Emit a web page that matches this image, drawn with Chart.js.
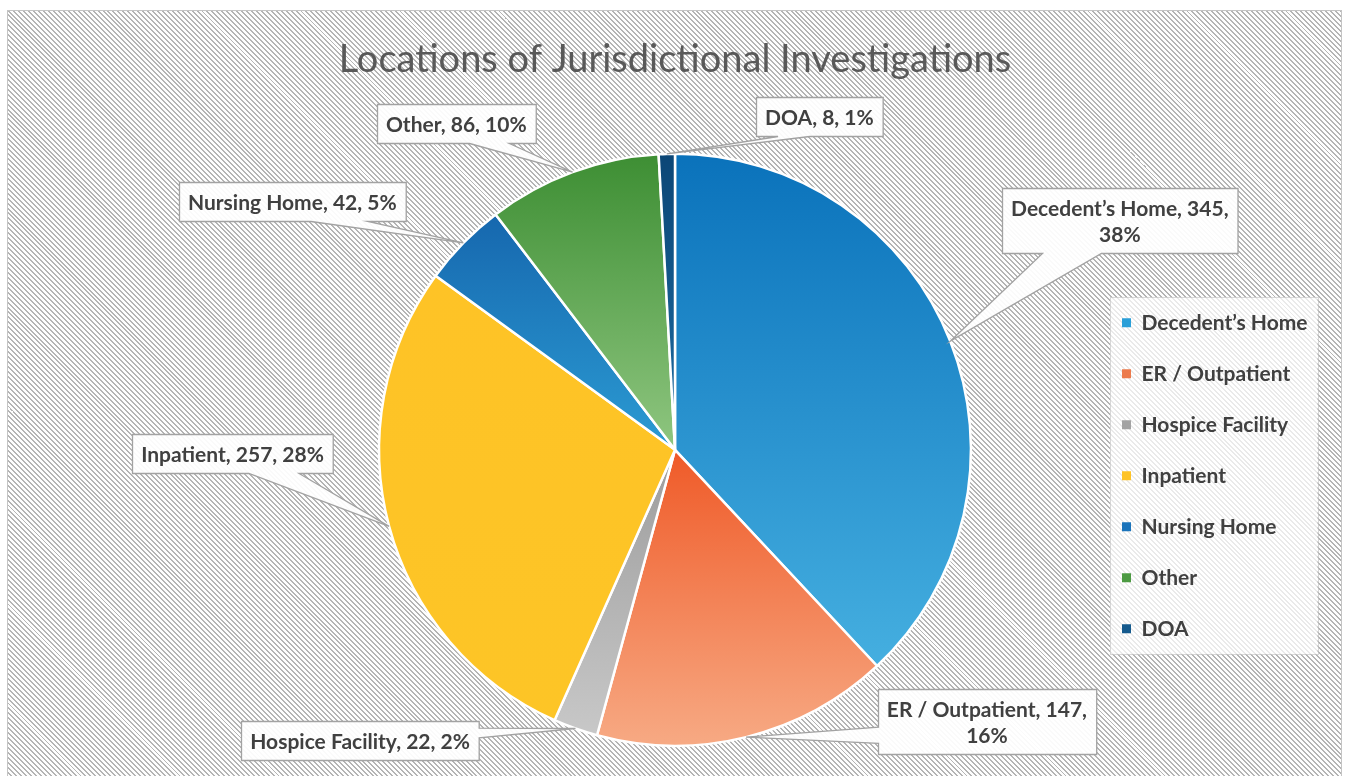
<!DOCTYPE html>
<html lang="en">
<head>
    <meta charset="UTF-8">
    <title>Locations of Jurisdictional Investigations</title>
    <script src="https://cdn.jsdelivr.net/npm/chart.js"></script>
    <style>
        body {
            margin: 0;
            background: #fff;
        }
        .frame {
            position: absolute;
            left: 7px;
            top: 10px;
            width: 1333px;
            height: 790px;
            border: 1px solid #c4c4c4;
            background: repeating-linear-gradient(45deg, #fdfdfd 0px, #fdfdfd 2.1px, #b4b4b4 2.1px, #b4b4b4 3.5px);
        }
    </style>
</head>
<body>

<div class="frame">
    <canvas id="pie"></canvas>
</div>

<script>
const categories = ['Decedent\u2019s Home', 'ER / Outpatient', 'Hospice Facility', 'Inpatient', 'Nursing Home', 'Other', 'DOA'];
const counts = [345, 147, 22, 257, 42, 86, 8];

const sliceTop = ['#0a72bb', '#ef5a28', '#9c9c9c', '#fec326', '#1667ae', '#3d8e33', '#0b4676'];
const sliceBottom = ['#45afe0', '#f7aa84', '#c8c8c8', '#fdc526', '#2b9bd3', '#8fc680', '#1e6ca2'];
const legendColors = ['#2a9fd8', '#ec7b4d', '#a3a3a3', '#fec326', '#1b74bb', '#4c9a42', '#155a8d'];

// where each callout box sits, in pie radii from the centre
const calloutOffsets = [[1.503, -0.774], [1.054, 0.917], [-1.064, 0.983], [-1.495, 0.013], [-1.293, -0.838], [-0.739, -1.104], [0.488, -1.125]];

const TEXT = '#404040';
const FONT = 'Lato';
const LABEL_SIZE = 21;

// Excel-style percentages: largest remainder so they add up to 100
function roundedPercents(values) {
    const total = values.reduce((a, b) => a + b, 0);
    const raw = values.map(v => v / total * 100);
    const out = raw.map(Math.floor);
    const left = 100 - out.reduce((a, b) => a + b, 0);
    const order = raw.map((v, i) => i).sort((a, b) => (raw[b] - out[b]) - (raw[a] - out[a]));
    for (let k = 0; k < left; k++) out[order[k]]++;
    return out;
}
const percents = roundedPercents(counts);

function sliceFill(context) {
    const chart = context.chart;
    const area = chart.chartArea;
    const i = context.dataIndex;
    if (!area) return sliceTop[i];
    const cy = (area.top + area.bottom) / 2;
    const r = Math.min(area.right - area.left, area.bottom - area.top) / 2;
    const total = counts.reduce((a, b) => a + b, 0);
    let start = 0;
    for (let k = 0; k < i; k++) start += counts[k];
    const a0 = start / total * 2 * Math.PI - Math.PI / 2;
    const a1 = (start + counts[i]) / total * 2 * Math.PI - Math.PI / 2;
    let ymin = cy, ymax = cy;
    for (let s = 0; s <= 60; s++) {
        const y = cy + r * Math.sin(a0 + (a1 - a0) * s / 60);
        ymin = Math.min(ymin, y);
        ymax = Math.max(ymax, y);
    }
    const g = chart.ctx.createLinearGradient(0, ymin, 0, ymax);
    g.addColorStop(0, sliceTop[i]);
    g.addColorStop(1, sliceBottom[i]);
    return g;
}

// legend width -> right padding so the pie lands where it should
const measureCtx = document.createElement('canvas').getContext('2d');
measureCtx.font = 'bold ' + LABEL_SIZE + 'px ' + FONT;
const legendTextW = Math.max(...categories.map(c => measureCtx.measureText(c).width));
const legendLeft = 1084;
const padRight = Math.max(0, 1333 - legendLeft - (30 + 9 + LABEL_SIZE / 2 + legendTextW) - 10);

function wrapText(ctx, text, maxWidth) {
    const words = text.split(' ');
    const lines = [];
    let line = '';
    words.forEach(w => {
        const test = line ? line + ' ' + w : w;
        if (line && ctx.measureText(test).width > maxWidth) {
            lines.push(line);
            line = w;
        } else {
            line = test;
        }
    });
    lines.push(line);
    return lines;
}

function pointerBase(start, len, nearStart) {
    return nearStart ? [start + len * 0.17, start + len * 0.42] : [start + len * 0.58, start + len * 0.83];
}

function calloutPath(ctx, l, t, w, h, ax, ay) {
    const r = l + w, b = t + h;
    let side;
    if (ay > b) side = 'bottom';
    else if (ay < t) side = 'top';
    else if (ax < l) side = 'left';
    else side = 'right';
    ctx.beginPath();
    ctx.moveTo(l, t);
    if (side === 'top') {
        const [p, q] = pointerBase(l, w, ax < l + w / 2);
        ctx.lineTo(p, t); ctx.lineTo(ax, ay); ctx.lineTo(q, t);
    }
    ctx.lineTo(r, t);
    if (side === 'right') {
        const [p, q] = pointerBase(t, h, ay < t + h / 2);
        ctx.lineTo(r, p); ctx.lineTo(ax, ay); ctx.lineTo(r, q);
    }
    ctx.lineTo(r, b);
    if (side === 'bottom') {
        const [p, q] = pointerBase(l, w, ax < l + w / 2);
        ctx.lineTo(q, b); ctx.lineTo(ax, ay); ctx.lineTo(p, b);
    }
    ctx.lineTo(l, b);
    if (side === 'left') {
        const [p, q] = pointerBase(t, h, ay < t + h / 2);
        ctx.lineTo(l, q); ctx.lineTo(ax, ay); ctx.lineTo(l, p);
    }
    ctx.closePath();
}

const calloutPlugin = {
    id: 'callouts',
    afterDatasetsDraw(chart) {
        const ctx = chart.ctx;
        const arcs = chart.getDatasetMeta(0).data;
        ctx.save();
        ctx.font = 'bold ' + LABEL_SIZE + 'px ' + FONT;
        ctx.textAlign = 'center';
        ctx.textBaseline = 'middle';
        arcs.forEach((arc, i) => {
            const {x, y, startAngle, endAngle, outerRadius} = arc.getProps(['x', 'y', 'startAngle', 'endAngle', 'outerRadius'], true);
            const mid = (startAngle + endAngle) / 2;
            const ax = x + Math.cos(mid) * outerRadius;
            const ay = y + Math.sin(mid) * outerRadius;
            const text = categories[i] + ', ' + counts[i] + ', ' + percents[i] + '%';
            const lines = wrapText(ctx, text, 235);
            const lineH = 26;
            const w = Math.max(...lines.map(s => ctx.measureText(s).width)) + 18;
            const h = lines.length * lineH + 13;
            const bx = x + calloutOffsets[i][0] * outerRadius;
            const by = y + calloutOffsets[i][1] * outerRadius;
            const l = Math.round(bx - w / 2) + 0.5, t = Math.round(by - h / 2) + 0.5;
            calloutPath(ctx, l, t, w, h, ax, ay);
            ctx.fillStyle = 'rgba(255,255,255,0.93)';
            ctx.fill();
            ctx.strokeStyle = '#a2a2a2';
            ctx.lineWidth = 1.3;
            ctx.stroke();
            ctx.fillStyle = TEXT;
            lines.forEach((s, k) => {
                ctx.fillText(s, bx, t + 6.5 + lineH * k + lineH / 2 + 1);
            });
        });
        ctx.restore();
    }
};

// pale panel behind the legend
const legendPanel = {
    id: 'legendPanel',
    beforeDraw(chart) {
        const boxes = chart.legend && chart.legend.legendHitBoxes;
        if (!boxes || !boxes.length) return;
        const ctx = chart.ctx;
        const l = Math.min(...boxes.map(b => b.left)) - 12;
        const r = Math.max(...boxes.map(b => b.left + b.width)) + 10;
        const t = Math.min(...boxes.map(b => b.top)) - 15;
        const btm = Math.max(...boxes.map(b => b.top + b.height)) + 15;
        ctx.save();
        ctx.fillStyle = 'rgba(255,255,255,0.72)';
        ctx.fillRect(l, t, r - l, btm - t);
        ctx.strokeStyle = 'rgba(190,190,190,0.6)';
        ctx.lineWidth = 1;
        ctx.strokeRect(Math.round(l) + 0.5, Math.round(t) + 0.5, Math.round(r - l), Math.round(btm - t));
        ctx.restore();
    }
};

new Chart(document.getElementById('pie'), {
    type: 'pie',
    data: {
        labels: categories,
        datasets: [{
            data: counts,
            backgroundColor: sliceFill,
            borderColor: '#ffffff',
            borderWidth: 2.5
        }]
    },
    options: {
        responsive: true,
        maintainAspectRatio: false,
        animation: false,
        layout: {
            padding: { left: 250, right: padRight, top: 0, bottom: 54 }
        },
        plugins: {
            title: {
                display: true,
                fullSize: false,
                text: 'Locations of Jurisdictional Investigations',
                color: '#595959',
                font: { family: FONT, size: 38, weight: 'normal' },
                padding: { top: 26, bottom: 70 }
            },
            legend: {
                position: 'right',
                fullSize: false,
                title: {
                    display: true,
                    text: '',
                    font: { size: 10, lineHeight: 1 },
                    padding: { top: 42, bottom: 0 }
                },
                labels: {
                    boxWidth: 9,
                    boxHeight: 9,
                    padding: 30,
                    color: TEXT,
                    font: { family: FONT, size: LABEL_SIZE, weight: 'bold' },
                    generateLabels: () => categories.map((c, i) => ({
                        text: c,
                        fillStyle: legendColors[i],
                        strokeStyle: legendColors[i],
                        lineWidth: 0,
                        fontColor: TEXT,
                        hidden: false,
                        index: i
                    }))
                }
            },
            tooltip: { enabled: false }
        }
    },
    plugins: [legendPanel, calloutPlugin]
});
</script>
</body>
</html>
